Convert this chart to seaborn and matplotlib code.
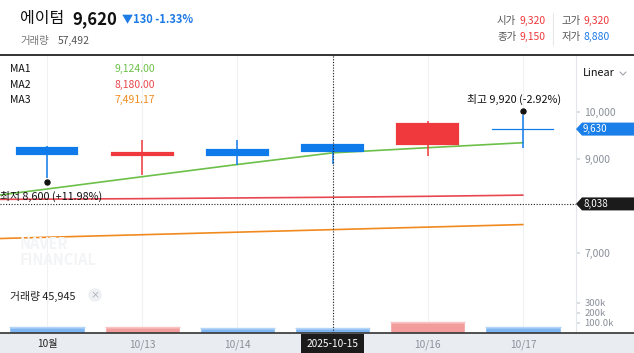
import matplotlib
matplotlib.use("Agg")
import matplotlib.pyplot as plt
import matplotlib.transforms as mtransforms
from matplotlib.patches import Rectangle, Polygon
from matplotlib.lines import Line2D
import numpy as np
import pandas as pd
import seaborn as sns

# ---------------- data ----------------
dates = ['10/10', '10/13', '10/14', '10/15', '10/16', '10/17']
x_labels = ['10월', '10/13', '10/14', '2025-10-15', '10/16', '10/17']
opens = [9250, 9060, 9210, 9320, 9290, 9630]
highs = [9260, 9400, 9400, 9320, 9800, 9920]
lows = [8600, 8650, 8870, 8880, 9060, 9220]
closes = [9080, 9150, 9060, 9150, 9750, 9620]
volumes = [62000, 63000, 52000, 45945, 108000, 57492]

ma_index = [-1, 0, 1, 2, 3, 4, 5]
ma1 = [8100, 8355, 8617, 8877, 9124, 9234, 9340]
ma2 = [8130, 8140, 8150, 8165, 8180, 8200, 8225]
ma3 = [7274, 7329, 7383, 7437, 7491, 7545, 7599]
ma_names = ['MA1', 'MA2', 'MA3']
ma_legend_values = ['9,124.00', '8,180.00', '7,491.17']

price_ticks = [7000, 9000, 10000]
volume_ticks = [100000, 200000, 300000]
volume_tick_labels = ['100.0k', '200k', '300k']
crosshair_price = 8038
current_tag = 9630
hover_idx = 3

# ---------------- style ----------------
sns.set_theme(style="white")
plt.rcParams['font.family'] = ['Noto Sans CJK KR', 'DejaVu Sans']

BLUE = '#0F7BEA'
RED = '#F0393C'
GREEN = '#6CC04A'
MA_RED = '#E8474F'
ORANGE = '#F08A1E'
GRAY = '#8A8F99'

W, H = 634, 353
fig = plt.figure(figsize=(W / 100, H / 100), dpi=100)
fig.patch.set_facecolor('white')


def fx(x):
    return x / W


def fy(y):
    return 1 - y / H


def T(x, y, s, **kw):
    kw.setdefault('va', 'center')
    return fig.text(fx(x), fy(y), s, **kw)


xlim = (-47 / 95.2, (576 - 47) / 95.2)

# ---------------- price pane ----------------
ax = fig.add_axes([0, fy(282), 576 / W, 227 / H])
ax.set_facecolor('white')
ax.set_xlim(*xlim)
ax.set_ylim(6377, 11206)

idx = np.arange(len(dates))
for name, vals, col in zip(ma_names, [ma1, ma2, ma3], [GREEN, MA_RED, ORANGE]):
    sns.lineplot(x=ma_index, y=vals, color=col, lw=1.2, ax=ax, zorder=3)

col_c = [RED if c > o else BLUE for o, c in zip(opens, closes)]
ax.vlines(idx, lows, highs, colors=col_c, lw=1.1, zorder=4)
bottoms, heights = [], []
for o, c in zip(opens, closes):
    h = abs(c - o)
    m = (o + c) / 2
    if h < 26:
        h = 26
    bottoms.append(m - h / 2)
    heights.append(h)
ax.bar(idx, heights, bottom=bottoms, width=0.66, color=col_c,
       edgecolor=col_c, linewidth=0.15, zorder=5)

ax.set_xticks(idx)
ax.grid(axis='x', color='#EFF1F4', lw=0.8)
ax.grid(axis='y', visible=False)
ax.tick_params(axis='x', length=0, labelbottom=False)
ax.yaxis.tick_right()
ax.set_yticks(price_ticks)
ax.set_yticklabels([f"{v:,}" for v in price_ticks])
ax.tick_params(axis='y', length=3, color='#D5D8DE', labelsize=7.5,
               labelcolor=GRAY, pad=3)
for s in ['top', 'left', 'bottom']:
    ax.spines[s].set_visible(False)
ax.spines['right'].set_color('#E3E6EA')
ax.spines['right'].set_linewidth(0.8)

# crosshair
ax.axvline(hover_idx, ls=(0, (1, 1.5)), color='#222', lw=0.8, zorder=6)
ax.axhline(crosshair_price, ls=(0, (1, 1.5)), color='#222', lw=0.8, zorder=6)

# high / low markers
lo_i = int(np.argmin(lows))
hi_i = int(np.argmax(highs))
tr_lo = mtransforms.offset_copy(ax.transData, fig=fig, x=0, y=-4, units='dots')
tr_hi = mtransforms.offset_copy(ax.transData, fig=fig, x=0, y=4.5, units='dots')
ax.plot([lo_i], [lows[lo_i]], marker='o', ms=3.6, color='#111', transform=tr_lo, zorder=7)
ax.plot([hi_i], [highs[hi_i]], marker='o', ms=3.6, color='#111', transform=tr_hi, zorder=7)
ax.annotate(f"최저 {lows[lo_i]:,} (+11.98%)", xy=(lo_i, lows[lo_i]), xytext=(-47, -18.5),
            textcoords='offset pixels', ha='left', va='center', fontsize=7.8,
            color='#111', zorder=8)
ax.annotate(f"최고 {highs[hi_i]:,} (-2.92%)", xy=(hi_i, highs[hi_i]), xytext=(-9, 16.5),
            textcoords='offset pixels', ha='center', va='center', fontsize=7.8,
            color='#111', zorder=8)

# watermark
T(20, 252, "NAVER\nFINANCIAL", fontsize=10.5, weight='bold', color='#F3F4F6',
  ha='left', linespacing=0.95, zorder=0)

# MA legend
for i, (name, val, col) in enumerate(zip(ma_names, ma_legend_values, [GREEN, MA_RED, ORANGE])):
    y = 69 + i * 15.5
    T(10, y, name, fontsize=7.5, color='#111', ha='left')
    T(155, y, val, fontsize=7.5, color=col, ha='right')

# ---------------- volume pane ----------------
vax = fig.add_axes([0, fy(333), 576 / W, 51 / H])
vax.set_facecolor('white')
vdf = pd.DataFrame({'pos': idx, 'vol': volumes,
                    'dir': ['up' if c > o else 'down' for o, c in zip(opens, closes)]})
sns.barplot(data=vdf, x='pos', y='vol', hue='dir',
            palette={'up': '#F39C9C', 'down': '#7DB6F3'}, saturation=1,
            dodge=False, width=0.79, legend=False, ax=vax, zorder=3)
top_cols = ['#F8C4C4' if d == 'up' else '#B4D5F8' for d in vdf['dir']]
vax.hlines(volumes, idx - 0.395, idx + 0.395, colors=top_cols, lw=1.0, zorder=4)
vax.set_xlim(*xlim)
vax.set_ylim(0, 510000)
vax.set_xlabel('')
vax.set_ylabel('')
vax.set_xticks(idx)
vax.set_xticklabels(x_labels)
vax.grid(axis='x', color='#EFF1F4', lw=0.8)
vax.grid(axis='y', visible=False)
vax.tick_params(axis='x', length=0, labelsize=7.3, pad=4.5)
for i, lab in enumerate(vax.get_xticklabels()):
    if i == 0:
        lab.set_color('#222')
    elif i == hover_idx:
        lab.set_color('white')
        lab.set_bbox(dict(facecolor='#1B1B1B', edgecolor='none', boxstyle='square,pad=0.55'))
    else:
        lab.set_color(GRAY)
vax.yaxis.tick_right()
vax.set_yticks(volume_ticks)
vax.set_yticklabels(volume_tick_labels)
vax.tick_params(axis='y', length=3, color='#D5D8DE', labelsize=6.8,
                labelcolor=GRAY, pad=3)
for s in ['top', 'left', 'bottom']:
    vax.spines[s].set_visible(False)
vax.spines['right'].set_color('#E3E6EA')
vax.spines['right'].set_linewidth(0.8)
vax.axvline(hover_idx, ls=(0, (1, 1.5)), color='#222', lw=0.8, zorder=6)

T(10, 296, f"거래량 {volumes[hover_idx]:,}", fontsize=7.8, color='#222', ha='left')
T(95, 295, "×", fontsize=6.5, color='#A0A4AB', ha='center',
  bbox=dict(boxstyle='circle,pad=0.25', facecolor='#EEF0F3', edgecolor='none'))

# ---------------- x band ----------------
fig.add_artist(Rectangle((0, 0), 1, 20 / H, transform=fig.transFigure,
                         facecolor='#E9ECF1', edgecolor='none', zorder=-1))
fig.add_artist(Line2D([0, 1], [fy(333), fy(333)], transform=fig.transFigure,
                      color='#333', lw=1.2, zorder=2))

# ---------------- header ----------------
fig.add_artist(Line2D([0, 1], [fy(54.5), fy(54.5)], transform=fig.transFigure,
                      color='#333', lw=1.4))
T(20, 19, "에이텀", fontsize=11.5, weight='medium', color='#111', ha='left')
T(72, 19, f"{closes[-1]:,}", fontsize=12, weight='bold', color='#111', ha='left')
T(122, 19, "▼130 -1.33%", fontsize=8, weight='bold', color='#1E7BE6', ha='left')
T(20, 41, "거래량", fontsize=7.5, color='#777', ha='left')
T(58, 41, "57,492", fontsize=7.5, color='#555', ha='left')

fig.add_artist(Line2D([fx(553), fx(553)], [fy(13), fy(45)], transform=fig.transFigure,
                      color='#E6E8EC', lw=0.8))
T(497, 21, "시가", fontsize=7.5, color='#555', ha='left')
T(519, 21, f"{opens[hover_idx]:,}", fontsize=7.5, color=RED, ha='left')
T(562, 21, "고가", fontsize=7.5, color='#555', ha='left')
T(583, 21, f"{highs[hover_idx]:,}", fontsize=7.5, color=RED, ha='left')
T(497, 37, "종가", fontsize=7.5, color='#555', ha='left')
T(519, 37, f"{closes[hover_idx]:,}", fontsize=7.5, color=RED, ha='left')
T(562, 37, "저가", fontsize=7.5, color='#555', ha='left')
T(583, 37, f"{lows[hover_idx]:,}", fontsize=7.5, color='#1E7BE6', ha='left')

# ---------------- right axis extras ----------------
T(583, 73, "Linear", fontsize=7.8, color='#111', ha='left')
fig.add_artist(Line2D([fx(620), fx(623), fx(626)], [fy(72), fy(75), fy(72)],
                      transform=fig.transFigure, color='#A0A4AB', lw=0.8))


def price_to_py(p):
    lo, hi = ax.get_ylim()
    return 282 - (p - lo) / (hi - lo) * 227


for price, col in [(current_tag, '#1A7FE8'), (crosshair_price, '#1B1B1B')]:
    yc = price_to_py(price)
    pts = [(576, yc), (582, yc - 6.5), (634, yc - 6.5), (634, yc + 6.5), (582, yc + 6.5)]
    fig.add_artist(Polygon([(fx(a), fy(b)) for a, b in pts], closed=True,
                           transform=fig.transFigure, facecolor=col, edgecolor='none', zorder=5))
    T(583, yc, f"{price:,}", fontsize=7, color='white', ha='left', zorder=6)

fig.savefig("out.png", dpi=100, facecolor='white')
